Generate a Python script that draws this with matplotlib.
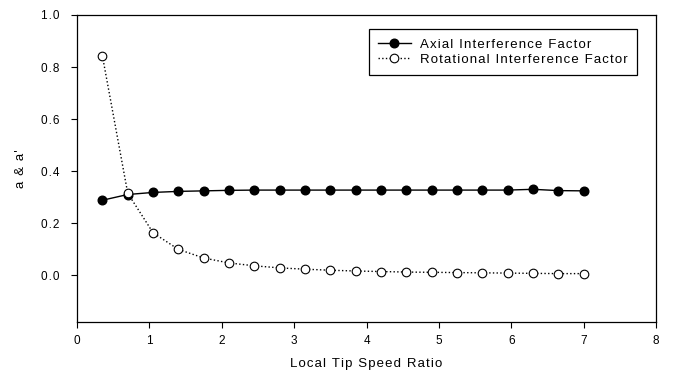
import matplotlib.pyplot as plt
import numpy as np

plt.rcParams['font.family'] = ['Liberation Sans', 'DejaVu Sans']

# local tip speed ratio stations
tsr = [0.35, 0.70, 1.05, 1.40, 1.75, 2.10, 2.45, 2.80, 3.15, 3.50,
       3.85, 4.20, 4.55, 4.90, 5.25, 5.60, 5.95, 6.30, 6.65, 7.00]
axial = [0.288, 0.310, 0.318, 0.322, 0.324, 0.326, 0.327, 0.327, 0.327, 0.327,
         0.327, 0.327, 0.327, 0.327, 0.327, 0.327, 0.327, 0.330, 0.325, 0.324]
rotational = [0.843, 0.315, 0.163, 0.099, 0.066, 0.047, 0.036, 0.028, 0.023, 0.019,
              0.016, 0.014, 0.012, 0.011, 0.010, 0.009, 0.008, 0.007, 0.006, 0.006]
yticks = [0.0, 0.2, 0.4, 0.6, 0.8, 1.0]


def spaced(s):
    # old plotting package look: widely tracked letters
    return "\u200a".join(s)


fig = plt.figure(figsize=(6.82, 3.74), dpi=100)
ax = fig.add_axes([0.113, 0.139, 0.849, 0.821])

ax.plot(tsr, axial, color="k", linestyle="-", linewidth=1.0, marker="o",
        markersize=6.2, markerfacecolor="k", markeredgecolor="k",
        label=spaced("Axial Interference Factor"))
ax.plot(tsr, rotational, color="k", linestyle=":", linewidth=1.0, marker="o",
        markersize=6.2, markerfacecolor="white", markeredgecolor="k",
        markeredgewidth=0.8, label=spaced("Rotational Interference Factor"))

ax.set_xlim(0, 8)
ax.set_ylim(-0.18, 1.0)
ax.set_xticks(np.arange(0, 9, 1))
ax.set_yticks(yticks)
ax.set_yticklabels([spaced(f"{v:.1f}") for v in yticks])
ax.tick_params(direction="out", length=4, width=0.8, labelsize=8.5)
ax.tick_params(axis="x", pad=5)
ax.tick_params(axis="y", pad=9)

for s in ax.spines.values():
    s.set_linewidth(0.9)

ax.set_xlabel(spaced("Local Tip Speed Ratio"), fontsize=9.5, labelpad=8)
ax.set_ylabel(spaced("a & a'"), fontsize=9.5, labelpad=10)

leg = ax.legend(loc="upper right", bbox_to_anchor=(0.967, 0.954), fontsize=9.5,
                frameon=True, fancybox=False, edgecolor="k", framealpha=1,
                handlelength=2.5, borderpad=0.7, labelspacing=0.25,
                handletextpad=0.7, borderaxespad=0)
leg.get_frame().set_linewidth(0.9)

fig.savefig("out.png", dpi=100)
